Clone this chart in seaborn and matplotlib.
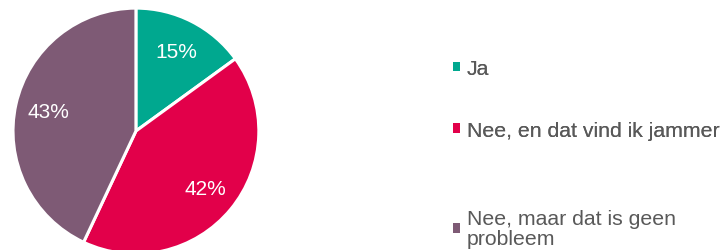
import matplotlib
matplotlib.use("Agg")
import matplotlib.pyplot as plt
import seaborn as sns

# survey answers
labels = ["Ja", "Nee, en dat vind ik jammer", "Nee, maar dat is geen\nprobleem"]
shares = [15, 42, 43]
colors = ["#00A88F", "#E2004A", "#7E5A75"]

sns.set_theme(style="white")
plt.rcParams["font.family"] = ["Liberation Sans", "DejaVu Sans"]

fig = plt.figure(figsize=(7.23, 2.51), dpi=100)
ax = fig.add_axes([0.018, -0.016, 0.340, 0.98])

palette = sns.color_palette(colors)
wedges, texts, autotexts = ax.pie(
    shares, colors=palette, startangle=90, counterclock=False,
    autopct="%d%%", pctdistance=0.73,
    wedgeprops=dict(edgecolor="white", linewidth=2.2),
    textprops=dict(color="white", fontsize=15),
)
ax.set_xlim(-1, 1)
ax.set_ylim(-1, 1)
ax.set_aspect("equal")
ax.axis("off")

leg_kw = dict(
    loc="upper left", frameon=False, fontsize=15.3, labelcolor="#595959",
    handlelength=0.33, handleheight=0.33, handletextpad=0.35,
    borderpad=0, borderaxespad=0,
)
leg1 = fig.legend(wedges[:2], labels[:2], bbox_to_anchor=(0.626, 0.76),
                  labelspacing=2.0, **leg_kw)
leg2 = fig.legend(wedges[2:], labels[2:], bbox_to_anchor=(0.626, 0.165),
                  **leg_kw)
for leg in (leg1, leg2):
    for h in leg.legend_handles:
        h.set_edgecolor("none")
    for t in leg.get_texts():
        t.set_linespacing(1.1)
fig.add_artist(leg1)

fig.savefig("out.png", dpi=100)
